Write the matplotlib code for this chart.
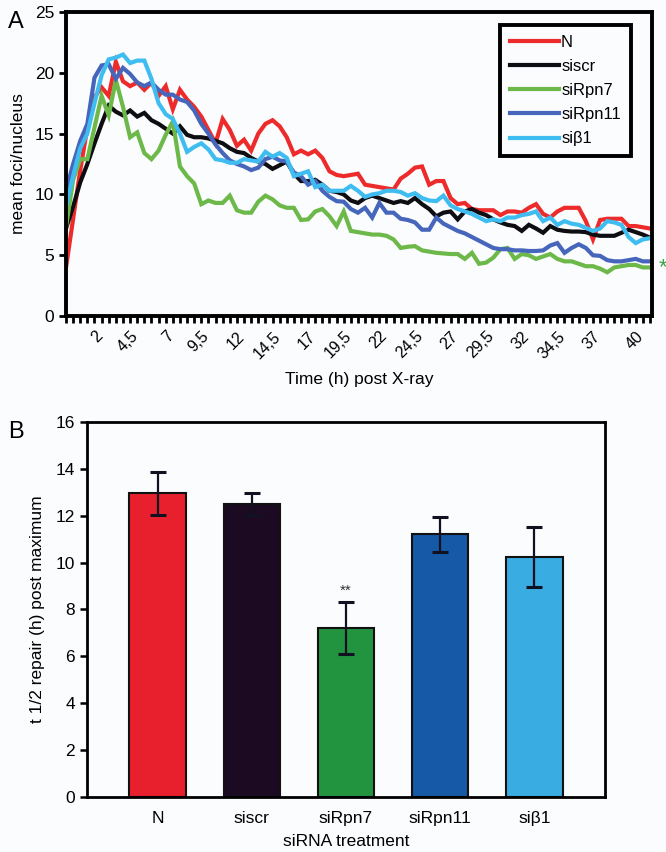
import numpy as np
import matplotlib
matplotlib.use("Agg")
import matplotlib.pyplot as plt
from matplotlib.ticker import MultipleLocator

plt.rcParams['font.family'] = ['Liberation Sans', 'DejaVu Sans']

# ---------------- Panel A data ----------------
time_h = np.arange(0, 41.5, 0.5)
series_names = ["N", "siscr", "siRpn7", "siRpn11", "siβ1"]

N_vals = [4.0, 8.0, 12.0, 15.5, 18.0, 18.8, 18.1, 20.9, 19.3, 18.9, 19.2, 18.6, 19.2, 18.1, 18.9, 17.0,
          18.6, 17.8, 17.2, 16.4, 15.3, 14.2, 16.2, 15.3, 14.0, 14.5, 13.6, 15.0, 15.8, 16.1, 15.6, 14.7,
          13.3, 13.6, 13.3, 13.6, 13.0, 11.9, 11.6, 11.5, 11.6, 11.7, 10.8, 10.7, 10.6, 10.5, 10.4, 11.3,
          11.7, 12.2, 12.3, 10.8, 11.1, 11.1, 9.7, 9.2, 9.3, 8.8, 8.7, 8.7, 8.7, 8.3, 8.6, 8.6,
          8.5, 8.9, 9.2, 8.4, 8.1, 8.6, 8.9, 8.9, 8.9, 7.8, 6.3, 7.9, 8.0, 8.0, 8.0, 7.4,
          7.4, 7.3, 7.2]
siscr_vals = [7.2, 9.0, 11.0, 12.5, 14.2, 15.8, 17.3, 16.8, 16.5, 16.9, 16.4, 16.7, 16.1, 15.8, 15.4, 15.0,
              15.6, 14.9, 14.7, 14.7, 14.6, 14.4, 14.2, 13.8, 13.5, 13.4, 13.0, 12.7, 12.5, 12.1, 12.4, 12.7,
              11.7, 11.1, 11.1, 11.2, 10.8, 10.3, 10.2, 10.0, 9.5, 9.3, 9.7, 9.9, 9.7, 9.5, 9.3, 9.45,
              9.3, 9.7, 9.2, 8.8, 8.2, 8.5, 8.6, 7.95, 8.6, 8.8, 8.5, 8.3, 7.95, 7.7, 7.5, 7.4,
              7.0, 7.5, 7.2, 6.85, 7.4, 7.1, 7.0, 6.95, 6.95, 6.9, 6.7, 6.6, 6.6, 6.6, 6.85, 7.1,
              6.9, 6.7, 6.45]
siRpn7_vals = [7.3, 11.2, 12.9, 12.9, 15.5, 18.1, 16.5, 19.4, 17.2, 14.7, 15.1, 13.4, 12.9, 13.6, 14.9, 16.0,
               12.3, 11.5, 10.9, 9.2, 9.5, 9.3, 9.3, 9.9, 8.7, 8.5, 8.5, 9.4, 9.9, 9.6, 9.1, 8.9,
               8.9, 7.9, 7.95, 8.6, 8.8, 8.2, 7.4, 8.6, 7.0, 6.9, 6.8, 6.7, 6.7, 6.6, 6.3, 5.6,
               5.7, 5.75, 5.4, 5.3, 5.2, 5.15, 5.1, 5.1, 4.7, 5.2, 4.3, 4.4, 4.8, 5.5, 5.6, 4.7,
               5.1, 5.0, 4.7, 4.9, 5.1, 4.7, 4.5, 4.5, 4.3, 4.1, 4.1, 3.9, 3.6, 4.0, 4.1, 4.2,
               4.2, 4.0, 4.0]
siRpn11_vals = [10.3, 12.5, 14.4, 15.8, 19.6, 20.6, 20.7, 19.5, 20.4, 19.9, 19.2, 18.9, 19.2, 18.6, 18.2, 18.2,
                17.8, 17.6, 16.9, 15.8, 15.0, 14.1, 13.4, 12.8, 12.5, 12.3, 12.0, 12.2, 12.9, 13.1, 12.8, 12.7,
                11.8, 11.5, 10.8, 11.1, 10.3, 9.8, 9.45, 9.4, 8.8, 8.5, 8.9, 8.1, 9.3, 8.5, 8.5, 8.0,
                7.9, 7.7, 7.1, 7.1, 8.1, 7.6, 7.3, 7.0, 6.8, 6.5, 6.2, 5.9, 5.6, 5.5, 5.5, 5.4,
                5.4, 5.35, 5.35, 5.4, 5.8, 6.0, 5.2, 5.6, 5.9, 5.6, 5.0, 4.95, 4.6, 4.5, 4.5, 4.6,
                4.7, 4.5, 4.5]
sib1_vals = [9.0, 11.5, 13.8, 15.0, 17.5, 19.8, 21.1, 21.25, 21.5, 20.8, 21.0, 21.0, 19.5, 17.5, 16.6, 16.2,
             15.0, 13.5, 13.9, 14.2, 13.7, 12.9, 12.8, 12.6, 12.6, 12.9, 12.8, 12.7, 13.5, 13.1, 13.4, 13.0,
             11.5, 11.7, 11.9, 10.6, 10.8, 10.3, 10.3, 10.3, 10.7, 10.3, 9.8, 10.0, 10.1, 10.3, 10.3, 10.2,
             9.9, 10.1, 9.7, 9.5, 9.45, 9.9, 9.1, 8.8, 8.6, 8.4, 8.1, 7.8, 7.95, 7.8, 8.1, 8.1,
             8.3, 8.4, 8.6, 7.8, 8.1, 7.5, 7.8, 7.6, 7.5, 7.25, 7.0, 7.2, 7.8, 7.7, 7.5, 6.5,
             6.0, 6.3, 6.4]
line_colors = ["#ee2b2b", "#0d0d12", "#6cb94a", "#4666bb", "#3fbdf0"]

x_tick_vals = [2, 4.5, 7, 9.5, 12, 14.5, 17, 19.5, 22, 24.5, 27, 29.5, 32, 34.5, 37, 40]
x_tick_labels = ["2", "4,5", "7", "9,5", "12", "14,5", "17", "19,5", "22", "24,5", "27",
                 "29,5", "32", "34,5", "37", "40"]

# ---------------- Panel B data ----------------
treatments = ["N", "siscr", "siRpn7", "siRpn11", "siβ1"]
half_life = [12.95, 12.5, 7.2, 11.2, 10.25]
half_life_err = [0.9, 0.45, 1.1, 0.73, 1.27]
bar_colors = ["#e8202e", "#1b0a22", "#22933f", "#1659a7", "#39ace1"]

bg = "#fbfcfe"
fig = plt.figure(figsize=(6.66, 8.52), dpi=100, facecolor=bg)

# ---------- Panel A ----------
axA = fig.add_axes([0.0991, 0.629, 0.880, 0.357], facecolor=bg)
series = [N_vals, siscr_vals, siRpn7_vals, siRpn11_vals, sib1_vals]
for name, vals, c in zip(series_names, series, line_colors):
    axA.plot(time_h[:len(vals)], vals, color=c, lw=3.0, label=name, solid_joinstyle='miter')
axA.set_xlim(0, 41.15)
axA.set_ylim(0, 25)
axA.yaxis.set_major_locator(MultipleLocator(5))
axA.set_xticks(x_tick_vals)
axA.set_xticklabels(x_tick_labels, rotation=45, ha='right', rotation_mode='anchor', fontsize=11.5)
axA.xaxis.set_minor_locator(MultipleLocator(0.5))
axA.tick_params(axis='x', which='both', direction='out', length=5, width=2, pad=4)
axA.tick_params(axis='y', direction='out', length=5, width=2, labelsize=12.5)
for s in axA.spines.values():
    s.set_linewidth(2.8)
axA.set_xlabel("Time (h) post X-ray", fontsize=12.5, labelpad=8)
axA.set_ylabel("mean foci/nucleus", fontsize=12.5, labelpad=6)
leg = axA.legend(loc='upper right', bbox_to_anchor=(0.978, 0.985), fontsize=12,
                 frameon=True, fancybox=False, handlelength=2.9, handletextpad=0.15,
                 borderpad=0.6, labelspacing=0.55)
leg.get_frame().set_edgecolor('black')
leg.get_frame().set_linewidth(2.8)
leg.get_frame().set_facecolor(bg)
leg.get_frame().set_alpha(1)
axA.annotate("*", xy=(1.0, siRpn7_vals[-1]), xycoords=('axes fraction', 'data'),
             xytext=(5, 0), textcoords='offset points', color='#3aa24a',
             fontsize=16, va='center', ha='left', annotation_clip=False)
fig.text(0.012, 0.987, "A", fontsize=17, va='top', ha='left')

# ---------- Panel B ----------
axB = fig.add_axes([0.1306, 0.0646, 0.7778, 0.4401], facecolor=bg)
xpos = np.arange(len(treatments))
axB.bar(xpos, half_life, width=0.6, color=bar_colors, edgecolor='#111111', linewidth=1.5,
        yerr=half_life_err, capsize=6,
        error_kw=dict(ecolor='#111122', elinewidth=1.6, capthick=2.2))
axB.set_xlim(-0.75, 4.75)
axB.set_ylim(0, 16)
axB.yaxis.set_major_locator(MultipleLocator(2))
axB.set_xticks(xpos)
axB.set_xticklabels(treatments, fontsize=12.5)
axB.tick_params(axis='x', length=0, pad=10)
axB.tick_params(axis='y', direction='out', length=5, width=1.8, labelsize=12.5)
for s in axB.spines.values():
    s.set_linewidth(2.0)
axB.set_xlabel("siRNA treatment", fontsize=12.5, labelpad=6)
axB.set_ylabel("t 1/2 repair (h) post maximum", fontsize=12.5, labelpad=8)
axB.annotate("**", xy=(2, half_life[2] + half_life_err[2]), xytext=(0, 3),
             textcoords='offset points', ha='center', va='bottom', fontsize=11, color='#333333')
fig.text(0.012, 0.506, "B", fontsize=17, va='top', ha='left')

fig.savefig("out.png", dpi=100, facecolor=bg)
